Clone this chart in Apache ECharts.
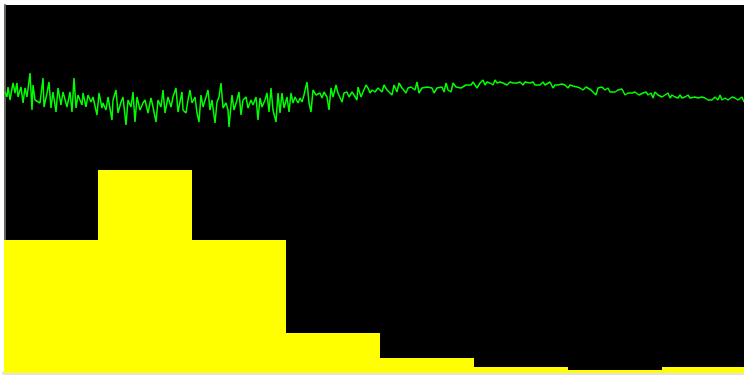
<!DOCTYPE html>
<html>
<head>
<meta charset="utf-8">
<script src="https://cdn.jsdelivr.net/npm/echarts@6/dist/echarts.min.js"></script>
<style>
  html, body { margin: 0; padding: 0; background: #fff; overflow: hidden; }
  #chart { width: 760px; height: 377px; }
</style>
</head>
<body>
<div id="chart"></div>
<script>
// histogram bins (8 buckets)
const binLabels = ['1', '2', '3', '4', '5', '6', '7', '8'];
const binCounts = [133, 203, 133, 40, 15, 6, 3, 6];

// green signal trace: sample position / level
const sigX = [
  1, 3, 4, 6, 9, 11, 13, 14, 17, 19, 21, 23, 26, 28, 29, 31, 33, 36, 39, 40, 43, 45, 47, 49, 52, 54, 57, 59,
  63, 66, 68, 70, 72, 74, 78, 79, 82, 84, 87, 89, 93, 95, 98, 99, 102, 104, 108, 109, 112, 114, 117, 119,
  122, 124, 127, 129, 131, 133, 136, 139, 141, 144, 147, 149, 152, 154, 157, 159, 161, 164, 167, 169, 172,
  174, 178, 179, 182, 184, 186, 188, 191, 193, 195, 197, 199, 202, 204, 206, 208, 211, 213, 215, 217, 219,
  222, 224, 225, 228, 230, 233, 235, 237, 239, 242, 244, 247, 249, 252, 254, 256, 258, 261, 263, 265, 267,
  269, 272, 274, 276, 278, 280, 283, 285, 287, 289, 291, 294, 296, 298, 300, 303, 305, 307, 309, 312, 314,
  316, 318, 320, 323, 325, 327, 329, 332, 334, 336, 338, 340, 343, 345, 348, 350, 353, 354, 357, 359, 362,
  364, 366, 368, 371, 372, 374, 378, 380, 383, 385, 388, 390, 393, 395, 398, 400, 402, 404, 407, 409, 411,
  413, 415, 418, 420, 423, 425, 428, 430, 433, 435, 438, 440, 442, 444, 447, 449, 452, 454, 457, 459, 462,
  464, 467, 469, 471, 473, 476, 479, 481, 483, 486, 489, 491, 493, 496, 499, 501, 503, 506, 509, 511, 513,
  516, 519, 521, 523, 526, 529, 531, 533, 536, 539, 541, 543, 546, 549, 551, 553, 554, 558, 561, 564, 566,
  569, 573, 576, 579, 582, 584, 587, 589, 592, 594, 596, 598, 601, 604, 606, 608, 611, 614, 616, 618, 621,
  624, 626, 628, 631, 633, 635, 637, 639, 642, 644, 647, 649, 651, 654, 656, 658, 661, 664, 666, 668, 671,
  674, 676, 678, 681, 684, 686, 688, 691, 694, 696, 698, 701, 704, 706, 708, 711, 714, 716, 718, 721, 724,
  726, 728, 731, 734, 736, 738, 740
];
const sigY = [
  281, 276, 286, 273, 290, 280, 290, 276, 286, 270, 285, 276, 300, 263, 288, 273, 275, 270, 295, 266, 280,
  291, 265, 281, 261, 285, 268, 281, 266, 281, 261, 295, 265, 278, 268, 280, 266, 278, 271, 276, 258, 280,
  265, 270, 263, 276, 253, 273, 283, 260, 271, 276, 248, 273, 266, 281, 251, 276, 263, 270, 273, 260, 275,
  266, 251, 273, 266, 283, 260, 276, 266, 276, 285, 261, 281, 263, 260, 273, 283, 270, 276, 260, 251, 278,
  266, 276, 283, 263, 273, 250, 271, 276, 290, 265, 270, 263, 246, 278, 263, 273, 281, 258, 273, 276, 265,
  273, 268, 276, 253, 275, 266, 273, 280, 261, 285, 263, 251, 280, 260, 280, 265, 276, 261, 280, 270, 276,
  270, 275, 271, 278, 291, 270, 261, 283, 278, 276, 280, 275, 281, 276, 263, 285, 276, 288, 280, 278, 271,
  280, 281, 276, 281, 278, 273, 286, 276, 281, 288, 285, 280, 283, 281, 280, 285, 281, 288, 283, 285, 278,
  288, 281, 290, 285, 286, 280, 285, 286, 288, 283, 291, 280, 285, 283, 286, 286, 285, 280, 285, 283, 286,
  281, 290, 283, 281, 290, 286, 288, 285, 286, 288, 290, 288, 291, 288, 285, 290, 293, 288, 291, 290, 288,
  293, 290, 291, 290, 291, 288, 291, 290, 291, 290, 291, 288, 291, 293, 290, 291, 288, 290, 288, 291, 288,
  290, 291, 285, 288, 290, 288, 289, 288, 285, 288, 287, 286, 285, 283, 286, 288, 283, 285, 278, 285, 283,
  286, 283, 285, 281, 280, 281, 283, 281, 284, 278, 280, 281, 280, 281, 283, 278, 276, 280, 281, 278, 280,
  275, 281, 278, 280, 276, 278, 280, 275, 278, 276, 275, 278, 275, 276, 278, 275, 273, 276, 275, 273, 276,
  275, 273, 275, 273, 276, 273, 278, 273, 275, 273, 275, 276, 275, 273, 275, 276, 271
];

const chart = echarts.init(document.getElementById('chart'));

const option = {
    animation: false,
    backgroundColor: '#ffffff',
    grid: {
        show: true,
        left: 4,
        top: 5,
        right: 4,
        bottom: 4,
        backgroundColor: '#000000',
        borderWidth: 0
    },
    xAxis: [
        {
            type: 'category',
            data: binLabels,
            boundaryGap: true,
            offset: 2,
            axisLine: { show: true, lineStyle: { color: '#e2e2e2', width: 4 } },
            axisTick: { show: false },
            axisLabel: { show: false },
            splitLine: { show: false }
        },
        {
            type: 'value',
            min: 0,
            max: 752,
            show: false
        }
    ],
    yAxis: {
        type: 'value',
        min: 0,
        max: 368,
        offset: -1,
        axisLine: { show: true, lineStyle: { color: '#66645a', width: 2 } },
        axisTick: { show: false },
        axisLabel: { show: false },
        splitLine: { show: false }
    },
    series: [
        {
            name: 'hist',
            type: 'bar',
            xAxisIndex: 0,
            data: binCounts,
            barCategoryGap: '0%',
            itemStyle: { color: '#ffff00' },
            z: 2
        },
        {
            name: 'signal',
            type: 'line',
            xAxisIndex: 1,
            data: sigX.map((x, i) => [x, sigY[i]]),
            showSymbol: false,
            lineStyle: { color: '#00ff00', width: 1.5 },
            z: 3
        }
    ]
};

chart.setOption(option);
</script>
</body>
</html>
